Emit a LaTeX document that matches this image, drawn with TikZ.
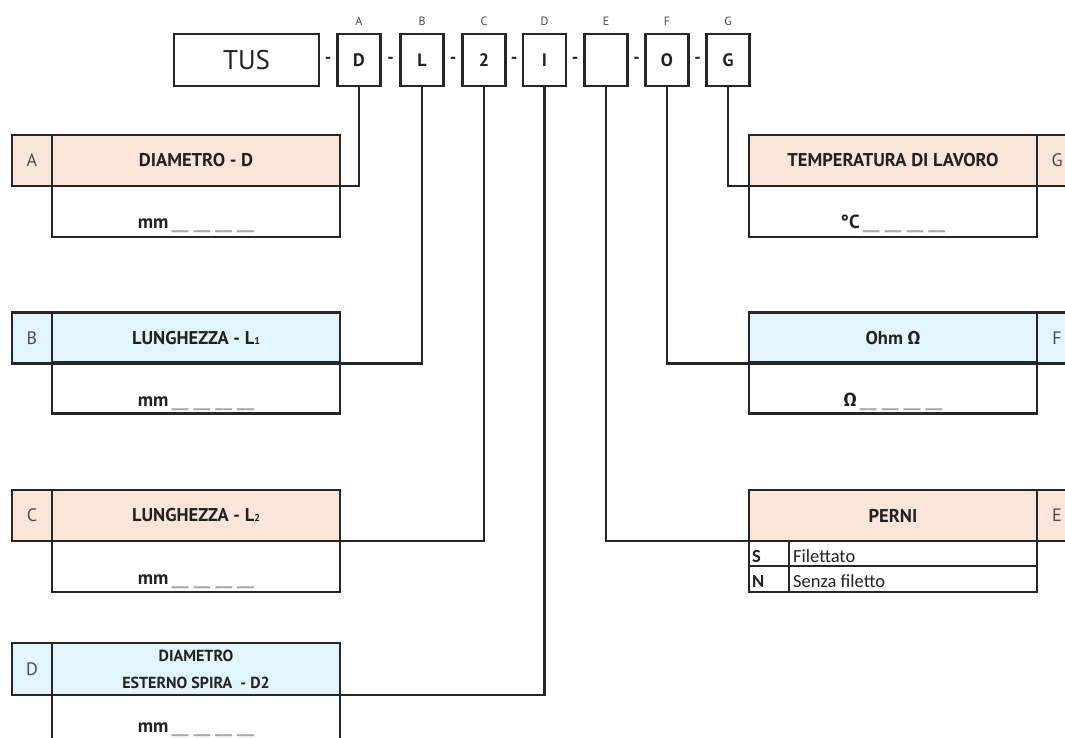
\documentclass[tikz,border=0pt]{standalone}
\usepackage{fontspec}
\setmainfont{PT Sans}
\newfontfamily\carl{Carlito}
\newfontfamily\fira{Fira Sans}
\definecolor{lc}{HTML}{262626}
\definecolor{pinkf}{HTML}{FBE5DA}
\definecolor{bluef}{HTML}{E2F5FC}
\definecolor{txt}{HTML}{222222}
\definecolor{soft}{HTML}{4A4A4A}
\definecolor{dashc}{HTML}{A8A8A8}
\newcommand{\blanks}{{\color{dashc}\_\_\hspace{5pt}\_\_\hspace{5pt}\_\_\hspace{5pt}\_\_}}
\tikzset{
  stroke/.style={draw=lc, line width=2.2pt},
  cell/.style={rectangle, stroke, inner sep=0pt, outer sep=0pt, text=txt},
  topbox/.style={cell, minimum width=43pt, minimum height=52pt, font=\fontsize{18}{18}\selectfont\bfseries},
  toplet/.style={inner sep=0pt, text=soft, font=\fontsize{12}{12}\selectfont},
  dashn/.style={inner sep=0pt, text=txt, font=\fontsize{18}{18}\selectfont\bfseries},
  lcell/.style={cell, minimum width=40pt, minimum height=51pt, text=soft, font=\fontsize{18}{18}\selectfont},
  hcell/.style={cell, minimum width=288pt, minimum height=51pt, font=\fontsize{18.5}{18.5}\selectfont\bfseries},
  vcell/.style={cell, minimum width=288pt, minimum height=51pt},
  vtext/.style={anchor=base, inner sep=0pt, text=txt, font=\fontsize{19}{19}\selectfont\bfseries},
  rowcell/.style={cell, minimum height=25.5pt},
  rowtext/.style={anchor=base west, inner sep=0pt, text=txt, font=\fontsize{18.5}{18.5}\selectfont\carl},
  conn/.style={stroke}
}
\begin{document}
\begin{tikzpicture}[x=1pt,y=-1pt]
\useasboundingbox (0,0) rectangle (1065,738);
\clip (0,0) rectangle (1065,738);
\fill[white] (0,0) rectangle (1065,738);

% top code row
\node[cell, minimum width=145pt, minimum height=52pt, font=\fontsize{27}{27}\selectfont] (tus) at (246.5,60) {TUS};
\node[topbox] (bA) at (359,60) {D};
\node[topbox] (bB) at (422,60) {L};
\node[topbox] (bC) at (484,60) {2};
\node[topbox] (bD) at (544.5,60) {I};
\node[topbox] (bE) at (606,60) {};
\node[topbox] (bF) at (667,60) {O};
\node[topbox] (bG) at (728,60) {G};

\node[dashn] (d1) at (328,60) {-};
\node[dashn] (d2) at (390.5,60) {-};
\node[dashn] (d3) at (453,60) {-};
\node[dashn] (d4) at (514,60) {-};
\node[dashn] (d5) at (575,60) {-};
\node[dashn] (d6) at (636.5,60) {-};
\node[dashn] (d7) at (697.5,60) {-};

\node[toplet] (tA) at (359,21.5) {A};
\node[toplet] (tB) at (422,21.5) {B};
\node[toplet] (tC) at (484,21.5) {C};
\node[toplet] (tD) at (544.5,21.5) {D};
\node[toplet] (tE) at (606,21.5) {E};
\node[toplet] (tF) at (667,21.5) {F};
\node[toplet] (tG) at (728,21.5) {G};

% left column
\node[lcell, fill=pinkf] (lA) at (32,160.5) {A};
\node[hcell, fill=pinkf] (hA) at (196,160.5) {DIAMETRO - D};
\node[vcell] (vA) at (196,211.5) {};
\node[vtext] (xA) at (196,229) {mm\,\blanks};

\node[lcell, fill=bluef] (lB) at (32,338) {B};
\node[hcell, fill=bluef] (hB) at (196,338) {LUNGHEZZA - L{\fontsize{10}{10}\selectfont 1}};
\node[vcell] (vB) at (196,388) {};
\node[vtext] (xB) at (196,406) {mm\,\blanks};

\node[lcell, fill=pinkf] (lC) at (32,515.5) {C};
\node[hcell, fill=pinkf] (hC) at (196,515.5) {LUNGHEZZA - L{\fontsize{10}{10}\selectfont 2}};
\node[vcell] (vC) at (196,566.5) {};
\node[vtext] (xC) at (196,584) {mm\,\blanks};

\node[lcell, fill=bluef, minimum height=52pt] (lD) at (32,669) {D};
\node[hcell, fill=bluef, minimum height=52pt, align=center, font=\fontsize{16}{27}\selectfont\bfseries] (hD) at (196,669) {DIAMETRO\\ESTERNO SPIRA\ \ - D2};
\node[vcell] (vD) at (196,720.5) {};
\node[vtext] (xD) at (196,732) {mm\,\blanks};

% right column
\node[lcell, fill=pinkf] (lG) at (1057,160.5) {G};
\node[hcell, fill=pinkf] (hG) at (893,160.5) {TEMPERATURA DI LAVORO};
\node[vcell] (vG) at (893,211.5) {};
\node[vtext] (xG) at (893,229) {°C\,\blanks};

\node[lcell, fill=bluef] (lF) at (1057,338) {F};
\node[hcell, fill=bluef] (hF) at (893,338) {Ohm {\fira\bfseries Ω}};
\node[vcell] (vF) at (893,388) {};
\node[vtext] (xF) at (893,406) {{\fira\bfseries Ω}\,\blanks};

\node[lcell, fill=pinkf] (lE) at (1057,515.5) {E};
\node[hcell, fill=pinkf] (hE) at (893,515.5) {PERNI};
\node[rowcell, minimum width=40pt] (sS) at (769,553.5) {};
\node[rowcell, minimum width=248pt] (sF) at (913,553.5) {};
\node[rowcell, minimum width=40pt] (nS) at (769,579) {};
\node[rowcell, minimum width=248pt] (nF) at (913,579) {};
\node[rowtext, font=\fontsize{18.5}{18.5}\selectfont\carl\bfseries] (kS) at (752,562) {S};
\node[rowtext] (kSt) at (793,562) {Filettato};
\node[rowtext, font=\fontsize{18.5}{18.5}\selectfont\carl\bfseries] (kN) at (752,587.5) {N};
\node[rowtext] (kNt) at (793,587.5) {Senza filetto};

% connectors
\draw[conn] (bA.south) |- (hA.south east);
\draw[conn] (bB.south) |- (hB.south east);
\draw[conn] (bC.south) |- (hC.south east);
\draw[conn] (bD.south) |- (hD.south east);
\draw[conn] (bE.south) |- (hE.south west);
\draw[conn] (bF.south) |- (hF.south west);
\draw[conn] (bG.south) |- (hG.south west);
\end{tikzpicture}
\end{document}
